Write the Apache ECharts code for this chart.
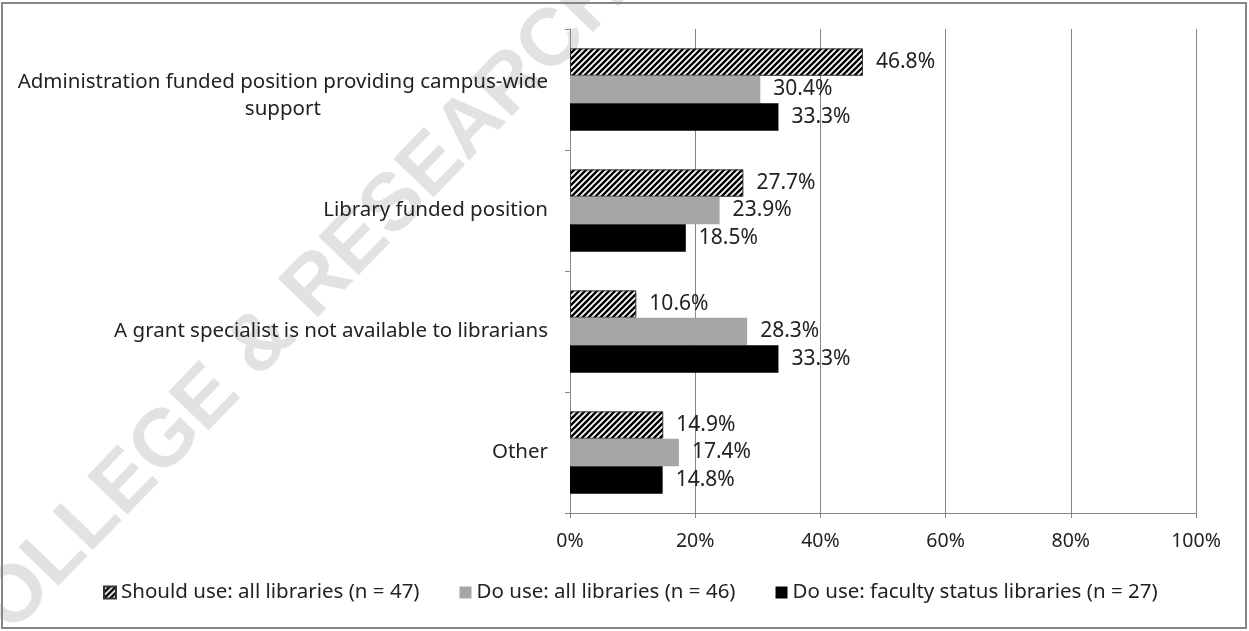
<!DOCTYPE html>
<html>
<head>
<meta charset="utf-8">
<style>
  html, body { margin: 0; padding: 0; background: #fff; }
  #chart { width: 1249px; height: 631px; }
</style>
<script src="https://cdn.jsdelivr.net/npm/echarts@6/dist/echarts.min.js"></script>
</head>
<body>
<div id="chart"></div>
<script>
// data
const categories = [
  'Administration funded position providing campus-wide\nsupport',
  'Library funded position',
  'A grant specialist is not available to librarians',
  'Other'
]
const seriesNames = [
  'Should use: all libraries (n = 47)',
  'Do use: all libraries (n = 46)',
  'Do use: faculty status libraries (n = 27)'
]
const shouldAll = [46.8, 27.7, 10.6, 14.9]
const doAll = [30.4, 23.9, 28.3, 17.4]
const doFaculty = [33.3, 18.5, 33.3, 14.8]
const xTicks = [0, 20, 40, 60, 80, 100]

const FONT = 'Noto Sans'

// hatch pattern for the first series
function makeHatch() {
  let c = document.createElement('canvas')
  c.width = 6
  c.height = 6
  let ctx = c.getContext('2d')
  ctx.fillStyle = '#ffffff'
  ctx.fillRect(0, 0, 6, 6)
  ctx.strokeStyle = '#000000'
  ctx.lineWidth = 2.4
  ctx.beginPath()
  ctx.moveTo(-3, 3); ctx.lineTo(3, -3)
  ctx.moveTo(0, 6); ctx.lineTo(6, 0)
  ctx.moveTo(3, 9); ctx.lineTo(9, 3)
  ctx.stroke()
  return c
}
const hatch = { image: makeHatch(), repeat: 'repeat' }

let myChart = echarts.init(document.getElementById('chart'))

function barSeries(name, data, color, extra) {
  return Object.assign({
    name: name,
    type: 'bar',
    data: data,
    barGap: '0%',
    barCategoryGap: '32%',
    itemStyle: { color: color },
    label: {
      show: true,
      position: 'right',
      distance: 13,
      formatter: (p) => p.value.toFixed(1) + '%',
      color: '#222',
      fontSize: 21,
      fontFamily: FONT,
    },
  }, extra || {})
}

let options = {
  animation: false,
  backgroundColor: '#fff',
  textStyle: { fontFamily: FONT },
  graphic: [
    {
      type: 'text',
      z: -10,
      silent: true,
      x: 284,
      y: 320,
      rotation: Math.PI * 46 / 180,
      style: {
        text: 'COLLEGE & RESEARCH',
        fontFamily: 'Liberation Sans',
        fontWeight: 'bold',
        fontSize: 81,
        fill: '#e2e2e2',
        align: 'center',
        verticalAlign: 'middle',
      },
    },
    {
      type: 'rect',
      silent: true,
      z: 100,
      shape: { x: 2, y: 3, width: 1244, height: 625 },
      style: { fill: 'none', stroke: '#868686', lineWidth: 2 },
    },
  ],
  grid: {
    left: 570,
    right: 53,
    top: 29,
    bottom: 118,
  },
  legend: {
    bottom: 23,
    left: 98,
    itemWidth: 12,
    itemHeight: 12,
    itemGap: 40,
    icon: 'rect',
    textStyle: { color: '#222', fontSize: 20.5, fontFamily: FONT },
    data: seriesNames,
  },
  xAxis: {
    type: 'value',
    min: 0,
    max: 100,
    interval: 20,
    axisLine: { show: true, lineStyle: { color: '#868686', width: 1 } },
    axisTick: { show: true, length: 5, lineStyle: { color: '#868686' } },
    splitLine: { show: true, lineStyle: { color: '#868686', width: 1 } },
    axisLabel: {
      color: '#222',
      fontSize: 19.5,
      fontFamily: FONT,
      margin: 18,
      formatter: (v) => (xTicks.indexOf(v) >= 0 ? v + '%' : ''),
    },
  },
  yAxis: {
    type: 'category',
    inverse: true,
    data: categories,
    axisLine: { show: true, lineStyle: { color: '#868686', width: 1 } },
    axisTick: { show: true, length: 5, lineStyle: { color: '#868686' } },
    axisLabel: {
      margin: 22,
      color: '#222',
      fontSize: 20.5,
      fontFamily: FONT,
      lineHeight: 27,
      formatter: (v) => {
        let lines = v.split('\n')
        if (lines.length === 1) return v
        // small empty line on top pushes the wrapped label down a bit
        return '{s|}\n' + lines.map((s) => '{c|' + s + '}').join('\n')
      },
      rich: {
        s: { lineHeight: 12, fontSize: 10 },
        c: { align: 'center', fontSize: 20.5, fontFamily: FONT, color: '#222', lineHeight: 27 },
      },
    },
  },
  series: [
    barSeries(seriesNames[0], shouldAll, hatch, {
      itemStyle: { color: hatch, borderColor: '#333', borderWidth: 1 },
    }),
    barSeries(seriesNames[1], doAll, '#a6a6a6'),
    barSeries(seriesNames[2], doFaculty, '#000000'),
  ],
}

myChart.setOption(options)
</script>
</body>
</html>
